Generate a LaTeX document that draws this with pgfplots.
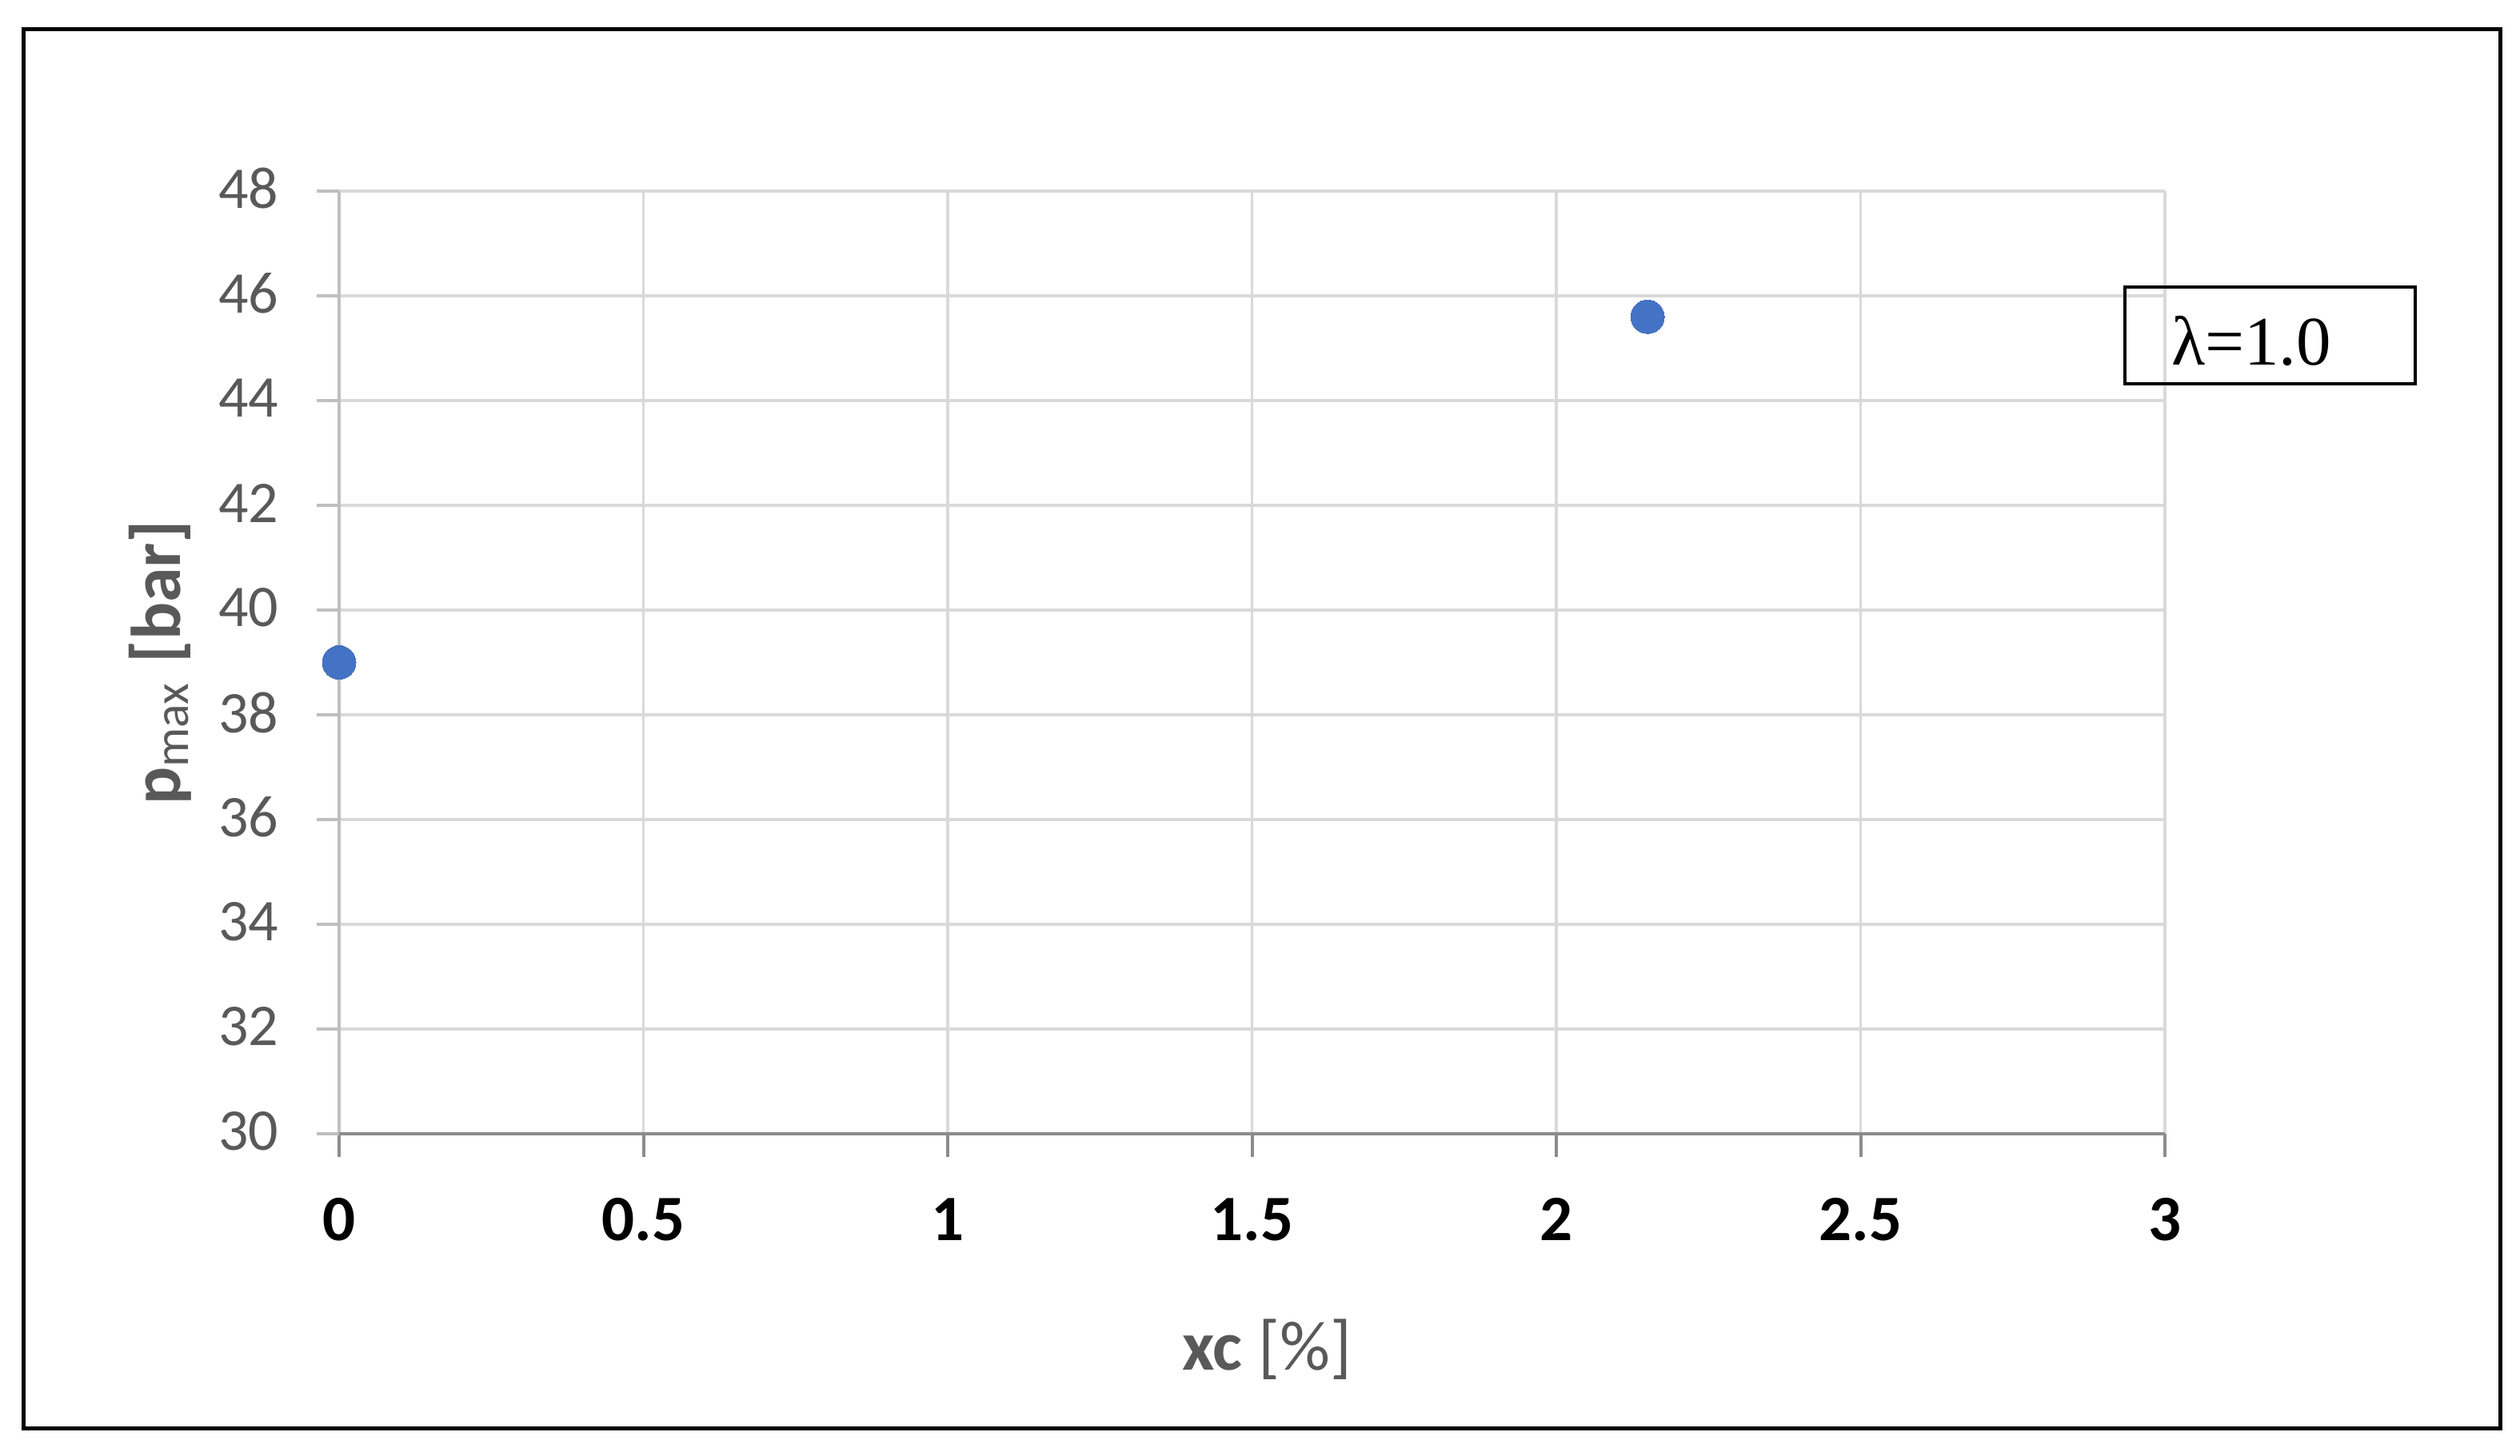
\documentclass[border=0pt]{standalone}
\usepackage{fontspec}
\setmainfont{Carlito}
\newfontfamily\seriffont{Liberation Serif}
\usepackage{pgfplots}
\pgfplotsset{compat=1.18}
\definecolor{gridc}{HTML}{D9D9D9}
\definecolor{yaxc}{HTML}{BFBFBF}
\definecolor{xaxc}{HTML}{8C8C8C}
\definecolor{txtc}{HTML}{595959}
\definecolor{markc}{HTML}{4472C4}
\begin{document}
\begin{tikzpicture}
\useasboundingbox (0,0) rectangle (315.1pt,182pt);
\begin{axis}[
  at={(42.4pt,40.2pt)}, anchor=south west,
  scale only axis, width=228.3pt, height=117.9pt,
  xmin=0, xmax=3, ymin=30, ymax=48,
  xtick={0,0.5,1,1.5,2,2.5,3},
  ytick={30,32,34,36,38,40,42,44,46,48},
  /pgf/number format/assume math mode=true,
  grid=major,
  grid style={color=gridc, line width=0.35pt},
  axis line style={draw=none},
  tick pos=left,
  tick align=outside,
  major tick length=2.85pt,
  xtick style={color=xaxc, line width=0.4pt},
  ytick style={color=yaxc, line width=0.4pt},
  xticklabel style={font=\fontsize{8.1}{10}\selectfont\bfseries, text=black, yshift=-1.7pt},
  yticklabel style={font=\fontsize{7.4}{9}\selectfont, text=txtc, xshift=-1.2pt, yshift=0.3pt},
  xlabel={\textbf{xc} [\%]},
  ylabel={\textbf{p}\textsubscript{max} \textbf{[bar]}},
  every axis x label/.style={at={(axis description cs:0.5,0)}, anchor=center, yshift=-26.95pt, xshift=1.85pt, font=\fontsize{8.8}{10}\selectfont, text=txtc},
  every axis y label/.style={at={(axis description cs:0,0.5)}, xshift=-22.4pt, rotate=90, anchor=center, font=\fontsize{8.8}{10}\selectfont, text=txtc},
  clip=false,
]
\addplot[only marks, mark=*, mark size=2.1pt, mark options={fill=markc, draw=markc, line width=0pt}] coordinates {(0,39.0) (2.15,45.6)};
\draw[color=yaxc, line width=0.4pt] (axis cs:0,30) -- (axis cs:0,48);
\draw[color=xaxc, line width=0.4pt] (axis cs:0,30) -- (axis cs:3,30);
\end{axis}
\draw[black, line width=0.4pt] (265.7pt,134.0pt) rectangle (302.0pt,146.1pt);
\node[anchor=base west, inner sep=0pt, font=\seriffont\fontsize{8.7}{10}\selectfont] at (271.3pt,136.3pt) {λ=1.0};
\draw[black, line width=0.5pt] (2.9pt,3.35pt) rectangle (312.65pt,178.35pt);
\end{tikzpicture}
\end{document}
